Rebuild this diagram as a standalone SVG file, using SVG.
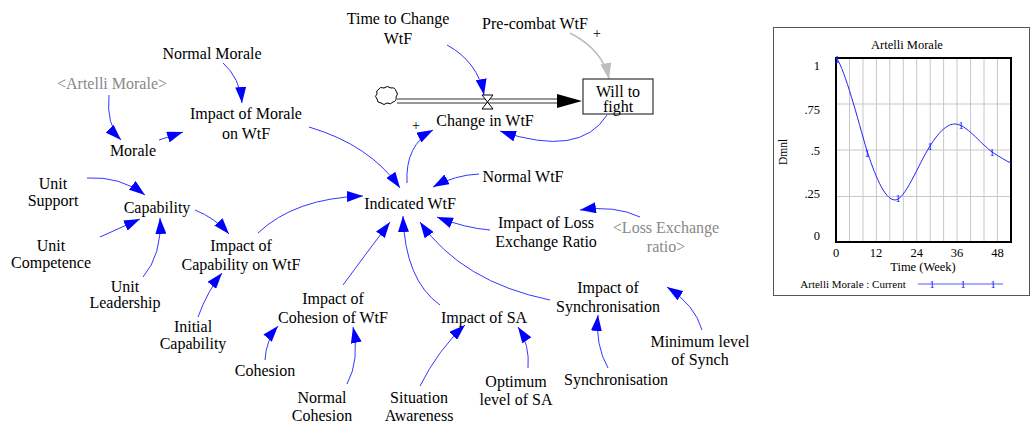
<svg xmlns="http://www.w3.org/2000/svg" width="1031" height="425" viewBox="0 0 1031 425" font-family="'Liberation Serif', 'DejaVu Serif', serif">
<style>
text{font-family:'Liberation Serif','DejaVu Serif',serif;fill:#000}
.n{font-size:16px;text-anchor:middle}
.g{fill:#888}
.c{fill:none;stroke:#3535ff;stroke-width:1}
.cg{fill:none;stroke:#bdbdbd;stroke-width:1.5}
.ct{font-size:12.5px}
.grid{stroke:#c8c8c8;stroke-width:1}
.mk{font-size:11px;fill:#2222ff;text-anchor:middle}
</style>
<defs>
<marker id="ab" viewBox="0 0 16 11" refX="16" refY="5.5" markerWidth="16" markerHeight="11" orient="auto" markerUnits="userSpaceOnUse"><path d="M0,0 L16,5.5 L0,11 Z" fill="#0000ff"/></marker>
<marker id="ag" viewBox="0 0 16 11" refX="16" refY="5.5" markerWidth="16" markerHeight="11" orient="auto" markerUnits="userSpaceOnUse"><path d="M0,0 L16,5.5 L0,11 Z" fill="#bdbdbd"/></marker>
</defs>
<rect width="1031" height="425" fill="#fff"/>

<g id="connectors">
<path class="c" marker-end="url(#ab)" d="M447,45 Q478,62 484,95"/>
<path class="cg" marker-end="url(#ag)" d="M570,33 Q603,50 609,79"/>
<path class="c" marker-end="url(#ab)" d="M607,115 Q580,158 500,131"/>
<path class="c" marker-end="url(#ab)" d="M407,183 Q405,145 433,130"/>
<path class="c" marker-end="url(#ab)" d="M223,63 Q240,78 242,103"/>
<path class="c" marker-end="url(#ab)" d="M109,95 Q106,125 121,140"/>
<path class="c" marker-end="url(#ab)" d="M159,140 L183,132"/>
<path class="c" marker-end="url(#ab)" d="M309,127 Q370,145 400,188"/>
<path class="c" marker-end="url(#ab)" d="M87,178 Q120,176 145,195"/>
<path class="c" marker-end="url(#ab)" d="M100,237 L140,219"/>
<path class="c" marker-end="url(#ab)" d="M143,277 Q162,255 160,218"/>
<path class="c" marker-end="url(#ab)" d="M195,210 Q215,218 229,234"/>
<path class="c" marker-end="url(#ab)" d="M198,317 Q208,290 222,273"/>
<path class="c" marker-end="url(#ab)" d="M258,233 Q295,198 363,196"/>
<path class="c" marker-end="url(#ab)" d="M479,174 Q455,175 433,187"/>
<path class="c" marker-end="url(#ab)" d="M490,230 Q465,228 437,217"/>
<path class="c" marker-end="url(#ab)" d="M640,217 Q615,205 580,210"/>
<path class="c" marker-end="url(#ab)" d="M550,300 Q462,282 420,222"/>
<path class="c" marker-end="url(#ab)" d="M440,305 Q405,280 403,216"/>
<path class="c" marker-end="url(#ab)" d="M343,285 Q365,255 390,222"/>
<path class="c" marker-end="url(#ab)" d="M265,360 Q266,340 278,326"/>
<path class="c" marker-end="url(#ab)" d="M347,384 Q360,360 353,327"/>
<path class="c" marker-end="url(#ab)" d="M420,386 Q438,350 465,325"/>
<path class="c" marker-end="url(#ab)" d="M528,368 Q530,345 518,327"/>
<path class="c" marker-end="url(#ab)" d="M608,368 Q595,345 598,315"/>
<path class="c" marker-end="url(#ab)" d="M702,330 Q695,305 667,287"/>
</g>

<g id="flow">
<path d="M378,90 q2,-4 6,-2 q3,-3 7,0 q4,-1 5,3 q3,3 0,6 q1,4 -3,5 q-2,3 -6,1 q-3,3 -6,0 q-4,0 -4,-4 q-3,-3 0,-5 q-1,-4 1,-4 z" fill="#fff" stroke="#000" stroke-width="1"/>
<line x1="397" y1="99" x2="558" y2="99" stroke="#333" stroke-width="1.2"/>
<line x1="397" y1="103" x2="558" y2="103" stroke="#333" stroke-width="1.2"/>
<path d="M557,94 L582,101 L557,108 Z" fill="#000"/>
<path d="M482,95 L493,95 L482,109 L493,109 Z" fill="#fff" stroke="#000" stroke-width="1"/>
<text class="n" x="485" y="126">Change in WtF</text>
<text x="416" y="130" style="font-size:14px;text-anchor:middle">+</text>
</g>

<g id="will-to-fight">
<rect x="583" y="79" width="70" height="35" fill="#fff" stroke="#333" stroke-width="1.2"/>
<text class="n" x="618" y="97">Will to</text>
<text class="n" x="618" y="112">fight</text>
</g>

<g id="time-to-change"><text class="n" x="398" y="24">Time to Change</text><text class="n" x="398" y="44">WtF</text></g>
<g id="precombat"><text class="n" x="535" y="29">Pre-combat WtF</text><text x="597" y="38" style="font-size:14px;text-anchor:middle">+</text></g>
<g id="normal-morale"><text class="n" x="212" y="59">Normal Morale</text></g>
<g id="artelli-morale-shadow"><text class="n g" x="112" y="89">&lt;Artelli Morale&gt;</text></g>
<g id="impact-morale"><text class="n" x="246" y="119">Impact of Morale</text><text class="n" x="246" y="139">on WtF</text></g>
<g id="morale"><text class="n" x="133" y="156">Morale</text></g>
<g id="unit-support"><text class="n" x="53" y="189">Unit</text><text class="n" x="53" y="206">Support</text></g>
<g id="capability"><text class="n" x="157" y="213">Capability</text></g>
<g id="unit-competence"><text class="n" x="51" y="251">Unit</text><text class="n" x="51" y="268">Competence</text></g>
<g id="unit-leadership"><text class="n" x="125" y="292">Unit</text><text class="n" x="125" y="308">Leadership</text></g>
<g id="impact-capability"><text class="n" x="241" y="251">Impact of</text><text class="n" x="241" y="270">Capability on WtF</text></g>
<g id="initial-capability"><text class="n" x="193" y="332">Initial</text><text class="n" x="193" y="349">Capability</text></g>
<g id="indicated-wtf"><text class="n" x="410" y="209">Indicated WtF</text></g>
<g id="normal-wtf"><text class="n" x="523" y="182">Normal WtF</text></g>
<g id="impact-loss"><text class="n" x="546" y="228">Impact of Loss</text><text class="n" x="546" y="247">Exchange Ratio</text></g>
<g id="loss-exchange-shadow"><text class="n g" x="666" y="233">&lt;Loss Exchange</text><text class="n g" x="666" y="252">ratio&gt;</text></g>
<g id="impact-cohesion"><text class="n" x="333" y="304">Impact of</text><text class="n" x="333" y="323">Cohesion of WtF</text></g>
<g id="cohesion"><text class="n" x="265" y="376">Cohesion</text></g>
<g id="normal-cohesion"><text class="n" x="322" y="403">Normal</text><text class="n" x="322" y="421">Cohesion</text></g>
<g id="impact-sa"><text class="n" x="484" y="323">Impact of SA</text></g>
<g id="situation-awareness"><text class="n" x="419" y="403">Situation</text><text class="n" x="419" y="421">Awareness</text></g>
<g id="optimum-sa"><text class="n" x="516" y="387">Optimum</text><text class="n" x="516" y="405">level of SA</text></g>
<g id="impact-sync"><text class="n" x="608" y="293">Impact of</text><text class="n" x="608" y="312">Synchronisation</text></g>
<g id="synchronisation"><text class="n" x="616" y="385">Synchronisation</text></g>
<g id="minimum-sync"><text class="n" x="700" y="347">Minimum level</text><text class="n" x="700" y="365">of Synch</text></g>

<g id="chart">
<rect x="773.5" y="27.5" width="256" height="268" fill="#fff" stroke="#555" stroke-width="1"/>
<text class="ct" x="907" y="49" text-anchor="middle">Artelli Morale</text>
<g class="grid">
<line x1="849.5" y1="58" x2="849.5" y2="242"/><line x1="863" y1="58" x2="863" y2="242"/><line x1="876.4" y1="58" x2="876.4" y2="242"/><line x1="889.8" y1="58" x2="889.8" y2="242"/><line x1="903.3" y1="58" x2="903.3" y2="242"/><line x1="916.7" y1="58" x2="916.7" y2="242"/><line x1="930.2" y1="58" x2="930.2" y2="242"/><line x1="943.6" y1="58" x2="943.6" y2="242"/><line x1="957" y1="58" x2="957" y2="242"/><line x1="970.5" y1="58" x2="970.5" y2="242"/><line x1="984" y1="58" x2="984" y2="242"/><line x1="997.4" y1="58" x2="997.4" y2="242"/>
<line x1="836" y1="104" x2="1011" y2="104"/><line x1="836" y1="150" x2="1011" y2="150"/><line x1="836" y1="196.5" x2="1011" y2="196.5"/>
</g>
<rect x="836" y="58" width="175" height="184" fill="none" stroke="#000" stroke-width="2"/>
<path d="M836.5,58 C845,70 858,120 866.7,150 C874,172 884,200 895,200 C905,200 918,165 930,146 C940,130 948,124 955,124 C966,124 980,143 992,152 C1000,157 1006,161 1011,163" fill="none" stroke="#2222ff" stroke-width="1"/>
<text class="mk" x="837" y="63">1</text><text class="mk" x="867" y="157">1</text><text class="mk" x="898" y="202">1</text><text class="mk" x="930" y="150">1</text><text class="mk" x="961" y="129">1</text><text class="mk" x="992" y="156">1</text>
<text class="ct" x="820" y="70" text-anchor="end">1</text>
<text class="ct" x="820" y="114" text-anchor="end">.75</text>
<text class="ct" x="820" y="155" text-anchor="end">.5</text>
<text class="ct" x="820" y="198" text-anchor="end">.25</text>
<text class="ct" x="820" y="240" text-anchor="end">0</text>
<text class="ct" x="836" y="257" text-anchor="middle">0</text>
<text class="ct" x="876" y="257" text-anchor="middle">12</text>
<text class="ct" x="916.7" y="257" text-anchor="middle">24</text>
<text class="ct" x="957" y="257" text-anchor="middle">36</text>
<text class="ct" x="997.4" y="257" text-anchor="middle">48</text>
<text class="ct" x="923" y="271" text-anchor="middle">Time (Week)</text>
<text class="ct" x="787" y="152" text-anchor="middle" transform="rotate(-90 787 152)" style="font-size:11.5px">Dmnl</text>
<text x="853" y="288" text-anchor="middle" style="font-size:11px">Artelli Morale : Current</text>
<line x1="918" y1="284" x2="1003" y2="284" stroke="#5a5aff" stroke-width="1.2"/>
<text class="mk" x="932" y="288">1</text><text class="mk" x="963" y="288">1</text><text class="mk" x="993" y="288">1</text>
</g>
</svg>
